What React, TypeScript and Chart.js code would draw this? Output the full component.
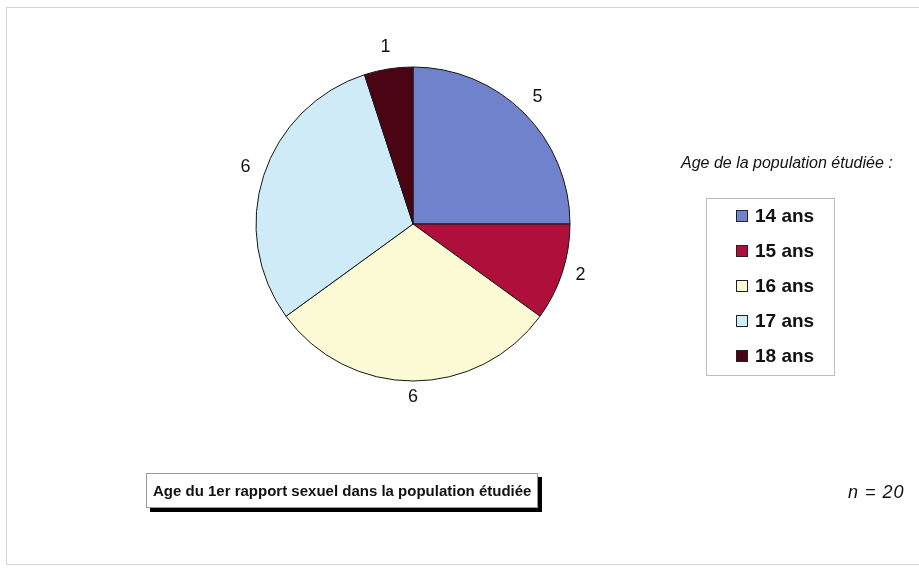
import React, { useEffect, useRef } from "react";
import { Chart, registerables } from "chart.js";

Chart.register(...registerables);

const categories = ["14 ans", "15 ans", "16 ans", "17 ans", "18 ans"];
const values = [5, 2, 6, 6, 1];
const sliceColors = ["#6f82cb", "#ae0f3b", "#fdfbd6", "#d0ebf8", "#4b0414"];
const legendTitle = "Age de la population étudiée :";
const chartTitle = "Age du 1er rapport sexuel dans la population étudiée";
const sampleNote = "n = 20";

const FONT = '"Liberation Sans", Arial, sans-serif';

const outsideLabels = {
  id: "outsideLabels",
  afterDatasetsDraw(chart: any) {
    const ctx = chart.ctx;
    const meta = chart.getDatasetMeta(0);
    const data = chart.data.datasets[0].data;
    ctx.save();
    ctx.font = "18px " + FONT;
    ctx.fillStyle = "#111";
    ctx.textAlign = "center";
    ctx.textBaseline = "middle";
    meta.data.forEach((arc: any, i: number) => {
      const { x, y, startAngle, endAngle, outerRadius } = arc.getProps(
        ["x", "y", "startAngle", "endAngle", "outerRadius"],
        true
      );
      const mid = (startAngle + endAngle) / 2;
      const d = outerRadius + 19;
      ctx.fillText(String(data[i]), x + Math.cos(mid) * d, y + Math.sin(mid) * d - 3);
    });
    ctx.restore();
  },
};

export default function App() {
  const ref = useRef<HTMLCanvasElement | null>(null);

  useEffect(() => {
    if (!ref.current) return;
    const chart = new Chart(ref.current, {
      type: "pie",
      data: {
        labels: categories,
        datasets: [
          {
            data: values,
            backgroundColor: sliceColors,
            borderColor: "#151515",
            borderWidth: 1,
            radius: 157,
          } as any,
        ],
      },
      options: {
        responsive: false,
        animation: false,
        devicePixelRatio: 1,
        layout: { padding: { left: 0, right: 93, top: 0, bottom: 121 } },
        plugins: {
          legend: { display: false },
          title: { display: false },
          tooltip: { enabled: false },
        },
      },
      plugins: [outsideLabels],
    });
    return () => chart.destroy();
  }, []);

  return (
    <div
      style={{
        position: "absolute",
        left: 0,
        top: 0,
        width: 919,
        height: 569,
        background: "#fff",
        overflow: "hidden",
        fontFamily: FONT,
        color: "#111",
      }}
    >
      <div
        style={{
          position: "absolute",
          left: 6,
          top: 7,
          width: 940,
          height: 556,
          border: "1px solid #d4d4d4",
        }}
      />
      <canvas
        ref={ref}
        width={919}
        height={569}
        style={{ position: "absolute", left: 0, top: 0, width: 919, height: 569 }}
      />
      <div
        style={{
          position: "absolute",
          left: 681,
          top: 152,
          fontSize: 16,
          fontStyle: "italic",
          whiteSpace: "nowrap",
          lineHeight: "22px",
        }}
      >
        {legendTitle}
      </div>
      <div
        style={{
          position: "absolute",
          left: 706,
          top: 198,
          width: 129,
          height: 178,
          border: "1px solid #bdbdbd",
          boxSizing: "border-box",
        }}
      >
        {categories.map((c, i) => (
          <div
            key={c}
            style={{
              position: "absolute",
              left: 29,
              top: 6 + i * 35,
              height: 22,
              display: "flex",
              alignItems: "center",
              whiteSpace: "nowrap",
            }}
          >
            <span
              style={{
                display: "inline-block",
                width: 10,
                height: 10,
                background: sliceColors[i],
                border: "1px solid #222",
                marginRight: 7,
              }}
            />
            <span style={{ fontSize: 19, fontWeight: "bold", lineHeight: "22px" }}>{c}</span>
          </div>
        ))}
      </div>
      <div
        style={{
          position: "absolute",
          left: 146,
          top: 473,
          width: 392,
          height: 35,
          border: "1px solid #9a9a9a",
          boxSizing: "border-box",
          background: "#fff",
          boxShadow: "4px 4px 0 #000",
          display: "flex",
          alignItems: "center",
          paddingLeft: 6,
          fontSize: 15,
          fontWeight: "bold",
          whiteSpace: "nowrap",
        }}
      >
        {chartTitle}
      </div>
      <div
        style={{
          position: "absolute",
          left: 848,
          top: 480,
          fontSize: 18,
          fontStyle: "italic",
          whiteSpace: "pre",
          lineHeight: "24px",
          letterSpacing: 1,
        }}
      >
        {sampleNote}
      </div>
    </div>
  );
}
